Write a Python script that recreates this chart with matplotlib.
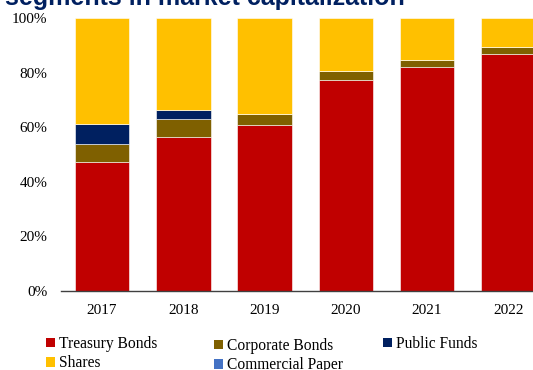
import numpy as np
import matplotlib.pyplot as plt
from matplotlib.patches import Patch

# shares of each segment in market capitalization (%)
years = ['2017', '2018', '2019', '2020', '2021', '2022']
treasury_bonds = [47.4, 56.3, 60.7, 77.3, 82.2, 86.7]
corporate_bonds = [6.3, 6.7, 4.2, 3.3, 2.3, 2.8]
public_funds = [7.6, 3.3, 0.0, 0.0, 0.0, 0.0]
commercial_paper = [0.0, 0.0, 0.0, 0.0, 0.0, 0.0]
shares = [38.7, 33.7, 35.1, 19.4, 15.5, 10.5]

series = [
    ('Treasury Bonds', treasury_bonds, '#C00000'),
    ('Corporate Bonds', corporate_bonds, '#7F6000'),
    ('Public Funds', public_funds, '#002060'),
    ('Commercial Paper', commercial_paper, '#4472C4'),
    ('Shares', shares, '#FFC000'),
]

plt.rcParams['font.family'] = 'Liberation Serif'

fig = plt.figure(figsize=(5.33, 3.70), dpi=100)
ax = fig.add_axes([61.4 / 533, 1 - 291 / 370, (549 - 61.4) / 533, 273 / 370])

x = np.arange(len(years))
bottom = np.zeros(len(years))
for name, vals, col in series:
    vals = np.array(vals)
    ax.bar(x, vals, 0.67, bottom=bottom, color=col, edgecolor='white', linewidth=0.4)
    bottom += vals

ax.set_xlim(-0.5, len(years) - 0.5)
ax.set_ylim(0, 100)
ax.set_yticks([0, 20, 40, 60, 80, 100])
ax.set_yticklabels([f'{v}%' for v in [0, 20, 40, 60, 80, 100]], fontsize=11)
ax.set_xticks(x)
ax.set_xticklabels(years, fontsize=11)
ax.tick_params(axis='both', length=0)
ax.tick_params(axis='y', pad=10)
ax.tick_params(axis='x', pad=9)
for s in ['top', 'right', 'left']:
    ax.spines[s].set_visible(False)
ax.spines['bottom'].set_color('#404040')
ax.spines['bottom'].set_linewidth(1.0)

# title sits mostly above the top edge
fig.text(5 / 533, 1 - 5 / 370, 'segments in market capitalization', fontsize=18,
         fontweight='bold', color='#002060', family='Liberation Sans', va='baseline')

# legend: three columns placed by hand
columns = [([0, 4], 46, 336), ([1, 3], 214, 338), ([2], 383, 336)]
for idx, left, top in columns:
    handles = [Patch(facecolor=series[i][2], label=series[i][0]) for i in idx]
    leg = fig.legend(handles=handles, loc='upper left',
                     bbox_to_anchor=(left / 533, 1 - top / 370),
                     frameon=False, fontsize=11.2, handlelength=0.6, handleheight=0.6,
                     handletextpad=0.25, labelspacing=0.22, borderaxespad=0,
                     borderpad=0)

fig.savefig('out.png', dpi=100)
